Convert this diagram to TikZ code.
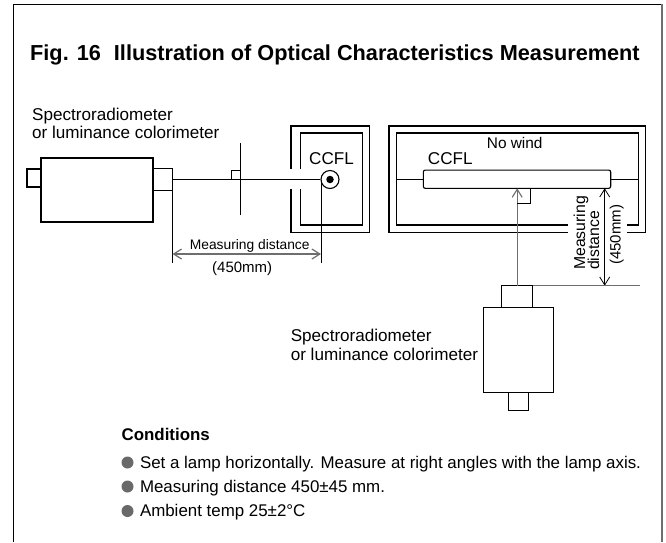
\documentclass[tikz,border=0pt]{standalone}
\usepackage{fontspec}
\setmainfont{Liberation Sans}
\usetikzlibrary{arrows.meta, positioning}
\definecolor{dimgray}{RGB}{110,110,110}
\definecolor{dotgray}{RGB}{105,105,105}

\begin{document}
\begin{tikzpicture}[
    x=1pt, y=-1pt,
    devbox/.style={rectangle, draw=black, fill=white, inner sep=0pt, outer sep=0pt, line width=1.1pt},
    lampbox/.style={devbox, rounded corners=2pt},
    label/.style={inner sep=0pt, anchor=base west, font=\fontsize{17.1}{19}\selectfont},
    small/.style={inner sep=0pt, anchor=base west, font=\fontsize{15}{17}\selectfont},
    cond/.style={inner sep=0pt, anchor=base west, font=\fontsize{16.9}{19}\selectfont},
    bullet/.style={circle, fill=dotgray, inner sep=0pt, minimum size=12pt},
    wall/.style={line width=1.1pt},
    thin line/.style={line width=0.8pt},
    arrow/.style={{Straight Barb[length=8pt,width=10pt]}-{Straight Barb[length=8pt,width=10pt]}, line width=0.8pt},
]
    \useasboundingbox (0,0) rectangle (666,542);
    \draw[line width=0.9pt] (13.5,542) -- (13.5,4.5) -- (661,4.5);
    \draw[line width=2pt, dimgray] (661.5,4) -- (661.5,542);

    \node[inner sep=0pt, anchor=base west, font=\fontsize{21.7}{24}\selectfont\bfseries] (title) at (30,60) {Fig. 16\hspace{0.6em}Illustration of Optical Characteristics Measurement};

    \node[label] (specleft) at (32,120.7) {Spectroradiometer};
    \node[label] (colorleft) at (32,138.5) {or luminance colorimeter};

    \node[devbox, minimum width=14pt, minimum height=18pt] (leftback) at (34,178) {};
    \node[devbox, minimum width=112pt, minimum height=64pt] (leftbody) at (97,190) {};
    \node[devbox, minimum width=19.5pt, minimum height=22pt] (leftfront) at (162.75,179.5) {};

    \draw[wall] (291,169) -- (291,126) -- (369.5,126) -- (369.5,232.7) -- (291,232.7) -- (291,189);
    \draw[wall] (300.5,169) -- (300.5,133) -- (362.3,133) -- (362.3,225) -- (300.5,225) -- (300.5,189);
    \node[label] (ccflleft) at (309,164) {CCFL};

    \node[circle, draw=black, fill=white, line width=1.1pt, inner sep=0pt, minimum size=18pt] (lampend) at (330,179.5) {};
    \node[circle, fill=black, inner sep=0pt, minimum size=7.5pt] (lampcore) at (lampend.center) {};

    \coordinate (crosstop) at (240.5,143);
    \coordinate (crossbot) at (240.5,215);
    \coordinate (leftext) at (172.5,263);
    \coordinate (lampext) at (321,263);
    \coordinate (lampfoot) at (321,179.5);
    \draw[thin line] (leftfront.east) -- (lampend.west);
    \draw[thin line] (crosstop) -- (crossbot);
    \draw[thin line] (231.5,179.5) -- (231.5,170) -- (240.5,170);
    \draw[thin line] (leftfront.south east) -- (leftext);
    \draw[thin line] (lampfoot) -- (lampext);
    \draw[arrow, dimgray, line width=1.2pt] (leftext |- 0,254) -- (lampext |- 0,254);
    \node[small, font=\fontsize{13.8}{16}\selectfont] (distleft) at (189.7,249) {Measuring distance};
    \node[small] (mmleft) at (212,272) {(450mm)};

    \draw[wall] (567.7,232.7) -- (389,232.7) -- (389,126) -- (645.7,126) -- (645.7,232.7) -- (626.7,232.7);
    \draw[wall] (567.7,225) -- (396.7,225) -- (396.7,133) -- (638.3,133) -- (638.3,225) -- (626.7,225);
    \node[small, font=\fontsize{15.4}{17}\selectfont] (nowind) at (486.7,148) {No wind};
    \node[label] (ccflright) at (427.7,164) {CCFL};

    \node[lampbox, minimum width=187.4pt, minimum height=18.3pt] (lamptube) at (517,179.2) {};
    \coordinate (wallleft) at (396.7,179.2);
    \coordinate (wallright) at (638.3,179.2);
    \draw[thin line] (wallleft) -- (lamptube.west);
    \draw[thin line] (lamptube.east) -- (wallright);

    \node[devbox, minimum width=31pt, minimum height=21.6pt] (downfront) at (517.2,296.5) {};
    \node[devbox, minimum width=70.3pt, minimum height=84.6pt] (downbody) at (518.7,350) {};
    \node[devbox, minimum width=20.3pt, minimum height=18pt] (downback) at (518.2,401.3) {};

    \coordinate (sightend) at (517.2,188.3);
    \coordinate (distend) at (604.7,188.3);
    \coordinate (distbase) at (604.7,285.7);
    \coordinate (baseend) at (640,285.7);
    \draw[{Straight Barb[length=8pt,width=10pt]}-, dimgray, line width=1.1pt] (sightend) -- (downfront.north);
    \draw[thin line] (517.2,203.3) -- (530.7,203.3) -- (530.7,188.3);
    \draw[arrow] (distend) -- (distbase);
    \draw[dimgray, line width=1.1pt] (downfront.north east) -- (baseend);

    \node[small, rotate=90, font=\fontsize{15.8}{18}\selectfont] (distright) at (585,270) {Measuring};
    \node[small, rotate=90, font=\fontsize{15.8}{18}\selectfont] (distright2) at (599,270) {distance};
    \node[small, rotate=90] (mmright) at (620.7,265) {(450mm)};

    \node[label] (specdown) at (290.6,341.7) {Spectroradiometer};
    \node[label] (colordown) at (290.6,360.7) {or luminance colorimeter};

    \node[cond, font=\fontsize{16.9}{19}\selectfont\bfseries] (conditions) at (121.4,440.7) {Conditions};
    \node[bullet] (dotone) at (127.5,462.5) {};
    \node[bullet] (dottwo) at (127.5,486.5) {};
    \node[bullet] (dotthree) at (127.5,511) {};
    \node[cond] (condone) at (139.8,468) {Set a lamp horizontally. Measure at right angles with the lamp axis.};
    \node[cond] (condtwo) at (139.8,492.3) {Measuring distance 450±45 mm.};
    \node[cond] (condthree) at (139.8,516.7) {Ambient temp 25±2°C};
\end{tikzpicture}
\end{document}
